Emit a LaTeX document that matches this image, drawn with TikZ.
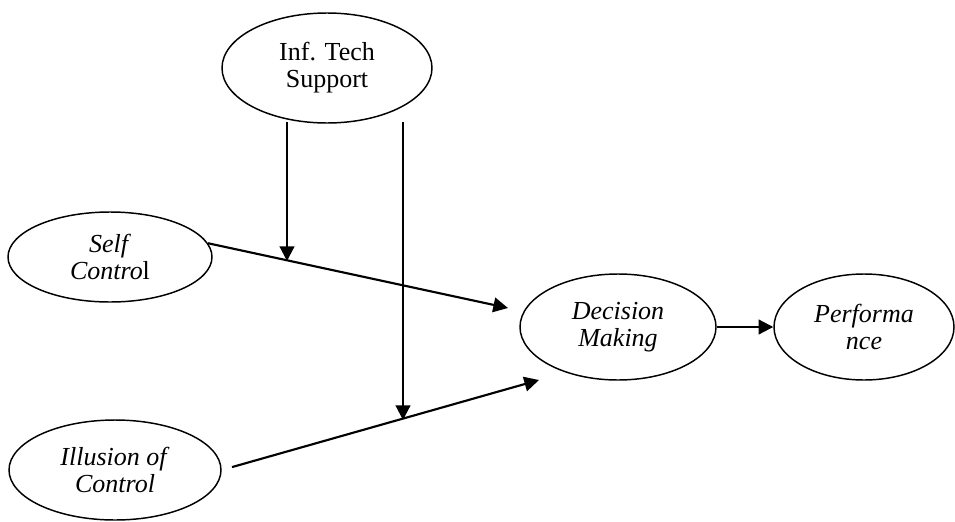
\documentclass[tikz,border=0pt]{standalone}
\usepackage{fontspec}
\setmainfont{Liberation Serif}
\usetikzlibrary{shapes.geometric, arrows.meta}
\tikzset{
	construct/.style={ellipse, draw=black, line width=1.1pt, inner sep=0pt, text centered, align=center, font=\fontsize{19.5}{20.25}\selectfont},
	effect/.style   ={-{Triangle[length=11pt, width=11pt]}, line width=1.6pt},
}
\begin{document}
\begin{tikzpicture}[x=0.75pt, y=-0.75pt]
	\useasboundingbox (0,0) rectangle (955,521);
	% constructs
	\node[construct, minimum width=157.5pt, minimum height=82.5pt] (its) at (327,68) {Inf. Tech\\ Support};
	\node[construct, minimum width=153pt, minimum height=67.5pt] (sc) at (110,257) {\textit{Self}\\ \textit{Contro}l};
	\node[construct, minimum width=159pt, minimum height=75pt] (ioc) at (115,470) {\textit{Illusion of}\\ \textit{Control}};
	\node[construct, minimum width=147pt, minimum height=79.5pt] (dm) at (618,327) {\textit{Decision}\\ \textit{Making}};
	\node[construct, minimum width=135pt, minimum height=79.5pt] (perf) at (864,327) {\textit{Performa}\\ \textit{nce}};
	% free ends
	\coordinate (dmTop) at (508,308);
	\coordinate (dmBot) at (539,380);
	\coordinate (itsL) at (287,122);
	\coordinate (itsR) at (403,122);
	\coordinate (scLink) at (287,261);
	\coordinate (iocLink) at (403,420);
	% paths
	\draw[effect] (sc.8) -- (dmTop);
	\draw[effect, shorten <=8pt] (ioc.east) -- (dmBot);
	\draw[effect] (dm.east) -- (perf.west);
	% moderation
	\draw[effect] (itsL) -- (scLink);
	\draw[effect] (itsR) -- (iocLink);
\end{tikzpicture}
\end{document}
